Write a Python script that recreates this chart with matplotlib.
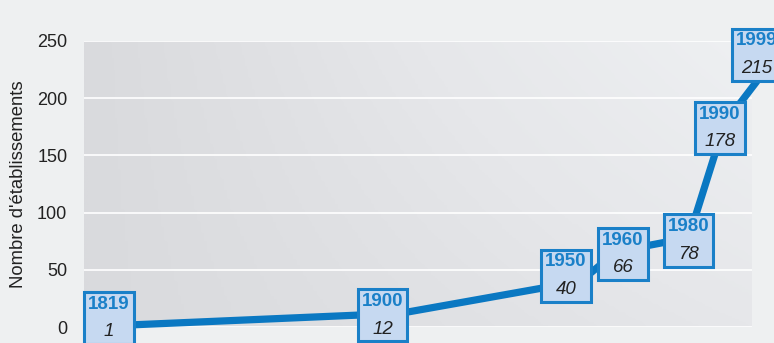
import matplotlib
matplotlib.use("Agg")
import matplotlib.pyplot as plt
import numpy as np
from matplotlib.offsetbox import TextArea, VPacker, AnnotationBbox

# data
years = [1819, 1900, 1950, 1960, 1980, 1990, 1999]
counts = [1, 12, 40, 66, 78, 178, 215]
yticks = [0, 50, 100, 150, 200, 250]
ylabel = "Nombre d'établissements"

LINE = '#0a78c2'
EDGE = '#1a80c8'
BOXFILL = '#c6d9f1'

# small nudges (points) so the boxes sit like in the infographic
nudges = {1819: (0, 5.5), 1900: (-13, -1.5), 1950: (-10.5, 4), 1960: (4.5, -2),
          1980: (0, -2), 1990: (-3.3, -3.5), 1999: (0, 19)}

plt.rcParams['font.family'] = ['Liberation Sans', 'DejaVu Sans']

fig = plt.figure(figsize=(7.74, 3.43), dpi=100)
fig.patch.set_facecolor('#eef0f1')
ax = fig.add_axes([84 / 774, 1 - 327 / 343, (752 - 84) / 774, (327 - 41) / 343])

# soft gradient for the plot area
gx, gy = np.meshgrid(np.linspace(0, 1, 200), np.linspace(0, 1, 100))
grad = 0.5 * gx + 0.5 * gy * gx
ax.imshow(grad, extent=(0, 1, 0, 1), transform=ax.transAxes, aspect='auto',
          cmap=matplotlib.colors.LinearSegmentedColormap.from_list('bg', ['#d9dadd', '#e6e7ea', '#eef0f2']),
          origin='lower', zorder=0)

ax.plot(years, counts, color=LINE, lw=5.2, solid_capstyle='butt', clip_on=False, zorder=3)

for yr, n in zip(years, counts):
    t1 = TextArea(str(yr), textprops=dict(color=EDGE, fontsize=13.5, fontweight='bold'))
    t2 = TextArea(str(n), textprops=dict(color='#222222', fontsize=13.5, fontstyle='italic'))
    pack = VPacker(children=[t1, t2], align='center', pad=0, sep=7.5)
    dx, dy = nudges.get(yr, (0, 0))
    ab = AnnotationBbox(pack, (yr, n), xybox=(dx, dy), boxcoords='offset points',
                        frameon=True, pad=0.28, annotation_clip=False,
                        bboxprops=dict(facecolor=BOXFILL, edgecolor=EDGE, lw=2.2),
                        zorder=5)
    ax.add_artist(ab)

ax.set_xlim(1812.06, 1997.6)
ax.set_ylim(0, 250)
ax.set_yticks(yticks)
ax.set_xticks([])
ax.yaxis.grid(True, color='white', lw=1.2)
ax.set_axisbelow(True)
for s in ax.spines.values():
    s.set_visible(False)
ax.tick_params(axis='y', length=0, pad=12, labelsize=13, labelcolor='#222222')
ax.set_ylabel(ylabel, fontsize=13.3, color='#222222', labelpad=7)

fig.savefig('out.png', dpi=100, facecolor=fig.get_facecolor())
